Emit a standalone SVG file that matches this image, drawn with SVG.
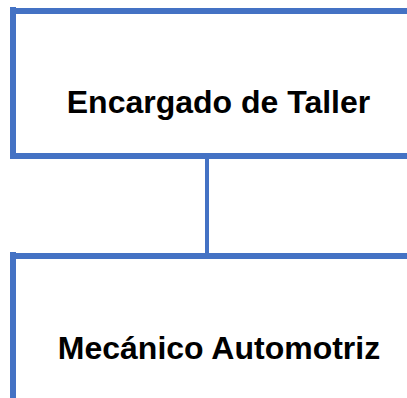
<svg xmlns="http://www.w3.org/2000/svg" width="407" height="398" viewBox="0 0 407 398">
  <style>
    .box { fill: none; stroke: #4472C4; stroke-width: 6; }
    .conn { stroke: #4472C4; stroke-width: 4; fill: none; }
    .lbl { font-family: "Liberation Sans", Arial, sans-serif; font-weight: bold; font-size: 32px; fill: #000; text-anchor: middle; }
  </style>
  <rect width="407" height="398" fill="#fff"/>
  <g id="connectors">
    <line class="conn" x1="207" y1="158" x2="207" y2="254"/>
  </g>
  <g id="node-encargado">
    <path class="box" d="M13 7 V159 M13 11 H410 M13 156 H410"/>
    <text class="lbl" x="218.5" y="113">Encargado de Taller</text>
  </g>
  <g id="node-mecanico">
    <path class="box" d="M13 252 V400 M13 256 H410"/>
    <text class="lbl" x="219" y="359">Mecánico Automotriz</text>
  </g>
</svg>
